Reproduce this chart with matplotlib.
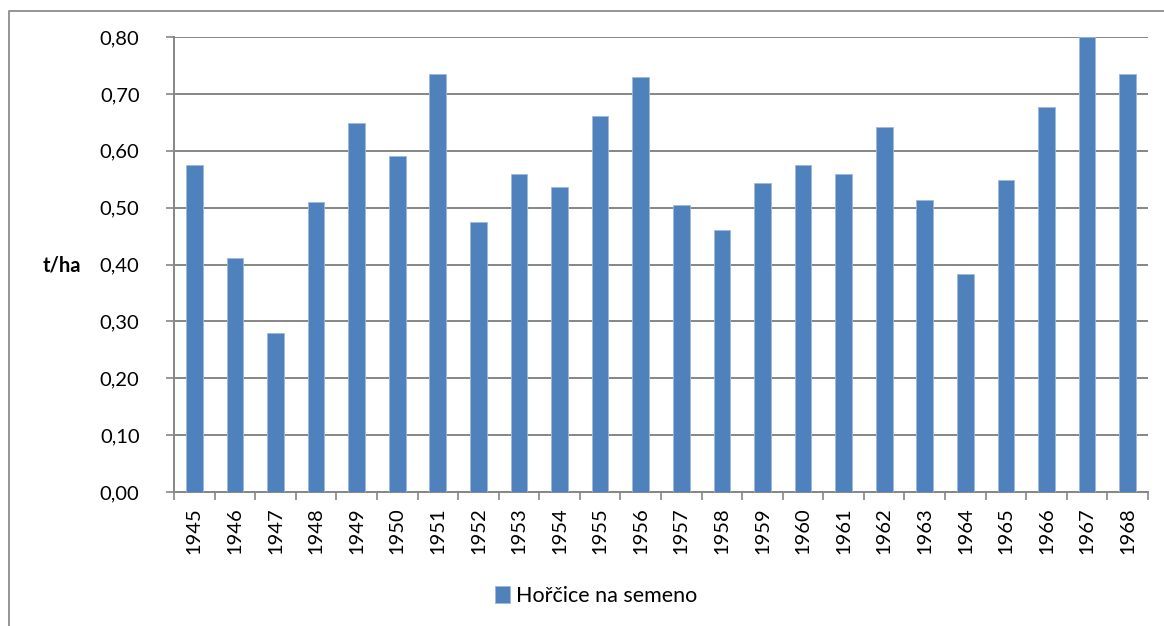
import matplotlib.pyplot as plt
from matplotlib.ticker import MultipleLocator, FuncFormatter
from matplotlib.lines import Line2D

years = [str(y) for y in range(1945, 1969)]
values = [0.575, 0.411, 0.279, 0.510, 0.648, 0.590, 0.735, 0.475,
          0.559, 0.536, 0.661, 0.729, 0.505, 0.460, 0.543, 0.575,
          0.559, 0.642, 0.514, 0.383, 0.549, 0.677, 0.800, 0.735]
series_name = 'Hořčice na semeno'

plt.rcParams['font.family'] = ['Lato', 'DejaVu Sans']
FS = 14.5

W, H = 1164, 626
fig = plt.figure(figsize=(W / 100, H / 100), dpi=100)
# chart frame: only its top and left edges fall inside the picture
fig.lines.append(Line2D([9 / W, 9 / W, 1.0], [0.0, 1 - 11 / H, 1 - 11 / H],
                        transform=fig.transFigure, color='#8c8c8c', linewidth=1.3))

ax = fig.add_axes([174 / W, 1 - 492 / H, (1148 - 174) / W, (492 - 37) / H])
x = range(len(years))
ax.bar(x, values, width=0.41, color='#4F81BD', edgecolor='#9db8dc',
       linewidth=0.6, label=series_name, zorder=3)

ax.set_xlim(-0.5, len(years) - 0.5)
ax.set_ylim(0, 0.80)
ax.yaxis.set_major_locator(MultipleLocator(0.1))
ax.yaxis.set_major_formatter(FuncFormatter(lambda v, p: f'{v:.2f}'.replace('.', ',')))
ax.set_xticks(list(x))
ax.set_xticklabels(years, rotation=90)
ax.set_xticks([i + 0.5 for i in range(-1, len(years))], minor=True)
ax.tick_params(axis='x', which='major', length=0, pad=11, labelsize=FS)
ax.tick_params(axis='x', which='minor', length=5.8, color='#868686', width=1.2)
ax.tick_params(axis='y', length=5.8, color='#868686', width=1.2, pad=19, labelsize=FS)

ax.yaxis.grid(True, color='#868686', linewidth=1.4, zorder=0)
for s in ['top', 'right']:
    ax.spines[s].set_visible(False)
for s in ['left', 'bottom']:
    ax.spines[s].set_color('#868686')
    ax.spines[s].set_linewidth(1.4)

# y axis title sits left of the tick labels, horizontal
fig.text(62 / W, 1 - 265 / H, 't/ha', fontweight='bold', fontsize=FS,
         ha='center', va='center')

ax.legend(loc='center', bbox_to_anchor=(596 / W, 1 - 596 / H),
          bbox_transform=fig.transFigure, frameon=False, fontsize=15.5,
          handlelength=0.72, handleheight=0.85, handletextpad=0.25)

fig.savefig('out.png', dpi=100)
